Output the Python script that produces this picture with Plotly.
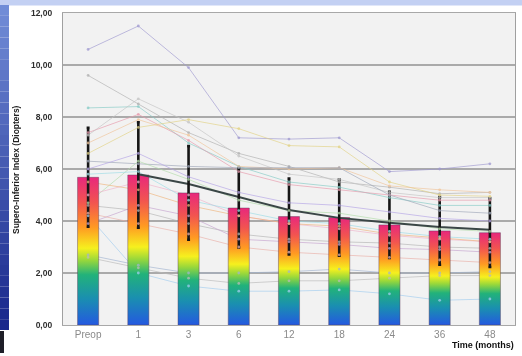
import plotly.graph_objects as go

# ---- data -------------------------------------------------------------
timepoints = ["Preop", "1", "3", "6", "12", "18", "24", "36", "48"]
mean_index = [5.68, 5.77, 5.08, 4.50, 4.17, 4.13, 3.85, 3.62, 3.55]
sd_index = [1.90, 2.03, 1.80, 1.52, 1.46, 1.46, 1.27, 1.30, 1.32]
trend_index = [None, 5.80, 5.42, 4.92, 4.42, 4.12, 3.93, 3.77, 3.66]

patients = [
    [10.6, 11.5, 9.9, 7.2, 7.15, 7.2, 5.9, 6.0, 6.2],
    [9.6, 8.5, 7.4, 6.6, 6.1, 5.5, 5.3, 5.05, 5.1],
    [8.35, 8.4, 7.0, 6.1, 5.5, 5.3, 4.9, 4.6, 4.6],
    [7.4, 8.1, 7.1, 5.9, 5.4, 5.2, 5.0, 4.8, 4.8],
    [7.3, 8.7, 7.8, 6.5, 5.8, 5.6, 5.1, 4.9, 4.9],
    [6.6, 7.6, 7.9, 7.55, 6.9, 6.85, 5.5, 5.0, 4.95],
    [7.0, 7.9, 7.3, 6.1, 6.0, 6.05, 5.35, 5.2, 5.1],
    [6.3, 6.2, 6.1, 6.05, 6.05, 6.05, 5.0, 4.4, 4.3],
    [4.7, 6.3, 5.6, 4.8, 4.4, 4.3, 4.0, 3.7, 3.6],
    [5.0, 5.5, 5.0, 4.2, 3.9, 3.7, 3.45, 3.3, 3.2],
    [4.6, 4.4, 3.9, 3.5, 3.3, 3.2, 3.15, 3.0, 2.95],
    [3.9, 4.6, 4.2, 3.3, 3.2, 3.1, 2.95, 2.9, 2.8],
    [2.7, 2.3, 2.0, 2.0, 2.05, 2.15, 2.0, 2.0, 2.05],
    [2.6, 2.2, 1.8, 1.6, 1.7, 1.7, 1.8, 1.9, 1.9],
    [4.2, 2.0, 1.5, 1.3, 1.3, 1.35, 1.2, 0.95, 1.0],
    [5.8, 5.9, 4.8, 4.4, 4.0, 3.9, 3.6, 3.4, 3.3],
    [5.5, 5.2, 4.6, 4.2, 3.9, 3.8, 3.5, 3.35, 3.2],
    [6.0, 6.6, 5.7, 5.1, 4.7, 4.6, 4.35, 4.1, 4.0],
    [4.3, 3.9, 3.5, 3.0, 2.8, 2.7, 2.6, 2.5, 2.4],
]
patient_colors = [
    "#9f99d0", "#b0b0b0", "#86cbc6", "#e79aac", "#c4c4c4", "#e2d284",
    "#f0c49a", "#9ea6b8", "#b2dcaa", "#efb4cc", "#b4b4b4", "#c6a4cf",
    "#a2b4d0", "#bababa", "#a2cdef", "#9cdce6", "#efb47c", "#b4a4e6",
    "#eab0a8",
]

y_ticks = [0, 2, 4, 6, 8, 10, 12]
y_tick_text = ["0,00", "2,00", "4,00", "6,00", "8,00", "10,00", "12,00"]

# ---- styling ----------------------------------------------------------
W, H = 522, 356
ML, MR, MT, MB = 63, 7, 13, 31
BAR_HALF = 0.21
rainbow = [
    [0.00, "#2459e0"], [0.18, "#1a8fb0"], [0.34, "#22b27a"],
    [0.44, "#9ad83a"], [0.52, "#f6f01e"], [0.66, "#ff9a22"],
    [0.83, "#f25450"], [1.00, "#e8287c"],
]
idx = list(range(len(timepoints)))

fig = go.Figure()

# individual patient courses (behind the bars)
for vals, col in zip(patients, patient_colors):
    fig.add_trace(go.Scatter(
        x=idx, y=vals, mode="lines",
        line=dict(color=col, width=1), opacity=0.65,
        hoverinfo="skip", showlegend=False,
    ))

# mean bars with a vertical rainbow gradient
for i, m in zip(idx, mean_index):
    fig.add_trace(go.Scatter(
        x=[i - BAR_HALF, i + BAR_HALF, i + BAR_HALF, i - BAR_HALF, i - BAR_HALF],
        y=[0, 0, m, m, 0],
        mode="lines", fill="toself",
        fillgradient=dict(type="vertical", colorscale=rainbow),
        line=dict(color="rgba(90,60,90,0.55)", width=0.8),
        hoverinfo="skip", showlegend=False,
    ))

# overall trend line
fig.add_trace(go.Scatter(
    x=idx, y=trend_index, mode="lines",
    line=dict(color="#3a4646", width=2),
    hoverinfo="skip", showlegend=False,
))

# standard deviation whiskers
fig.add_trace(go.Scatter(
    x=idx, y=mean_index, mode="markers",
    marker=dict(size=1, opacity=0),
    error_y=dict(type="data", array=sd_index, color="#161616",
                 thickness=2.6, width=1.5),
    hoverinfo="skip", showlegend=False,
))

# patient data points
for vals, col in zip(patients, patient_colors):
    fig.add_trace(go.Scatter(
        x=idx, y=vals, mode="markers",
        marker=dict(color=col, size=2.8), opacity=0.75,
        hoverinfo="skip", showlegend=False,
    ))

# slide background: top band and left band
def px_x(px):
    return (px - ML) / (W - ML - MR)

def px_y(py):
    return (H - MB - py) / (H - MT - MB)

shapes = [dict(type="rect", xref="paper", yref="paper",
               x0=px_x(0), x1=px_x(W), y0=px_y(5.5), y1=px_y(0),
               fillcolor="#c3d0f3", line=dict(width=0), layer="below")]
top_c = (112, 140, 215)
bot_c = (26, 40, 140)
n = 30
for k in range(n):
    t = k / (n - 1)
    c = tuple(int(a + (b - a) * t) for a, b in zip(top_c, bot_c))
    y0 = 5 + k * (330 - 5) / n
    y1 = 5 + (k + 1) * (330 - 5) / n
    shapes.append(dict(type="rect", xref="paper", yref="paper",
                       x0=px_x(0), x1=px_x(9), y0=px_y(y1), y1=px_y(y0),
                       fillcolor="rgb(%d,%d,%d)" % c, line=dict(width=0),
                       layer="below"))
shapes.append(dict(type="rect", xref="paper", yref="paper",
                   x0=px_x(0), x1=px_x(4), y0=px_y(353), y1=px_y(331),
                   fillcolor="#1e1e28", line=dict(width=0), layer="below"))

fig.update_layout(
    width=W, height=H,
    margin=dict(l=ML, r=MR, t=MT, b=MB),
    paper_bgcolor="white",
    plot_bgcolor="#f2f2f2",
    shapes=shapes,
    showlegend=False,
    font=dict(family="Liberation Sans, Arial, sans-serif"),
    xaxis=dict(
        range=[-0.5, len(timepoints) - 0.5],
        tickmode="array", tickvals=idx, ticktext=timepoints,
        tickfont=dict(size=10, color="#8a8a8a"),
        showgrid=False, zeroline=False,
        showline=True, linecolor="#a8a8a8", linewidth=1, mirror=True,
        ticks="", fixedrange=True,
    ),
    yaxis=dict(
        range=[0, 12],
        tickmode="array", tickvals=y_ticks, ticktext=y_tick_text,
        tickfont=dict(size=8.5, color="#2e2e2e", weight="bold"),
        ticklabelstandoff=8,
        showgrid=True, gridcolor="#aaaaaa", gridwidth=1.8,
        zeroline=False,
        showline=True, linecolor="#a0a0a0", linewidth=1.2, mirror=True,
        ticks="", fixedrange=True,
    ),
    annotations=[
        dict(text="<b>Supero-Inferior Index (Diopters)</b>",
             xref="paper", yref="paper", x=px_x(16), y=px_y(170),
             textangle=-90, showarrow=False,
             font=dict(size=8.5, color="#222222"),
             xanchor="center", yanchor="middle"),
        dict(text="<b>Time (months)</b>",
             xref="paper", yref="paper", x=px_x(516), y=px_y(345),
             showarrow=False, font=dict(size=9, color="#111111"),
             xanchor="right", yanchor="middle"),
    ],
)

fig.write_html("out.html")
